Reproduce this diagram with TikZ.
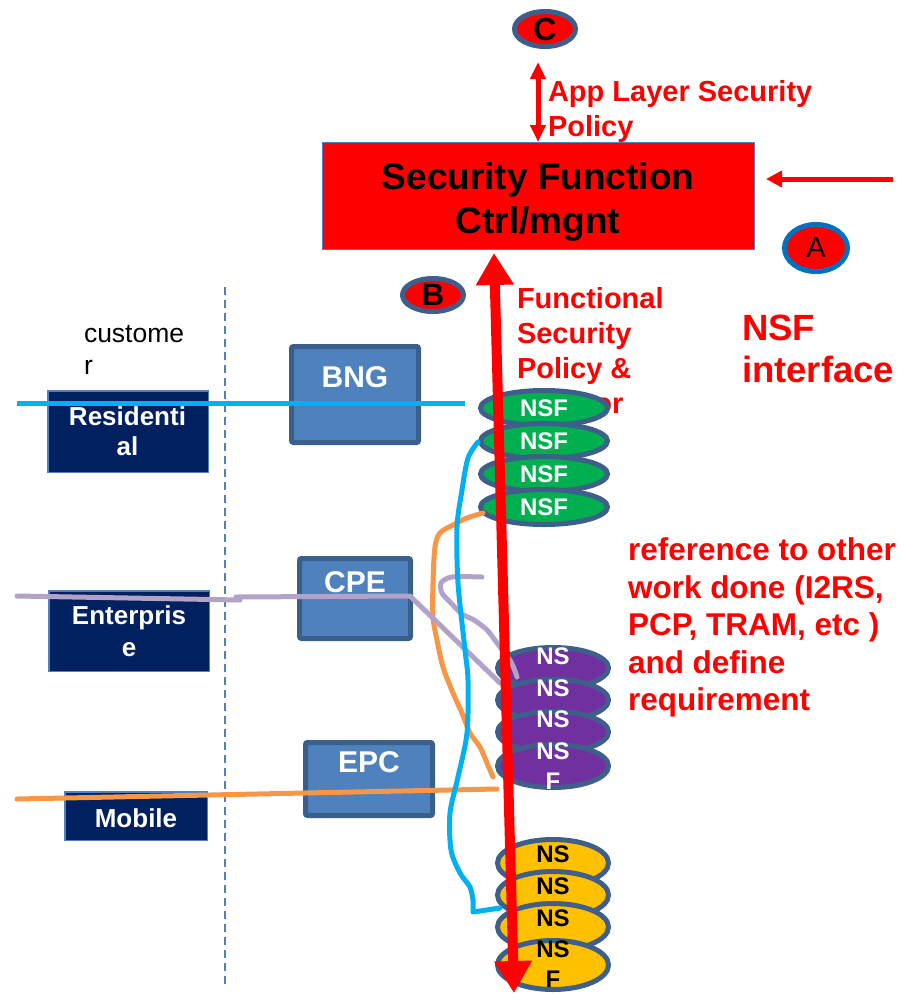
\documentclass[tikz,border=0pt]{standalone}
\usepackage{fontspec}
\setmainfont{Liberation Sans}
\usetikzlibrary{arrows.meta,shapes.geometric}

\definecolor{sfred}{HTML}{FF0000}
\definecolor{sfedge}{HTML}{4F81BD}
\definecolor{ringblue}{HTML}{3E5F8A}
\definecolor{aring}{HTML}{0070C0}
\definecolor{navy}{HTML}{002060}
\definecolor{navyedge}{HTML}{4F81BD}
\definecolor{boxblue}{HTML}{4F81BD}
\definecolor{boxedge}{HTML}{3A5F8B}
\definecolor{cyanline}{HTML}{00B0F0}
\definecolor{lavline}{HTML}{B3A2C7}
\definecolor{orangeline}{HTML}{F79646}
\definecolor{nsfgreen}{HTML}{00B050}
\definecolor{nsfpurple}{HTML}{7030A0}
\definecolor{nsfyellow}{HTML}{FFC000}

\newcommand{\setfs}[2]{\fontsize{#1pt}{#2pt}\selectfont}

\tikzset{
  lbl/.style={inner sep=0pt, outer sep=0pt},
  redtxt/.style={lbl, text=sfred, align=left, anchor=north west},
  navybox/.style={draw=navyedge, fill=navy, line width=1.5pt, inner sep=0pt},
  bluebox/.style={draw=boxedge, fill=boxblue, line width=5pt, rounded corners=2pt, inner sep=0pt},
  navytxt/.style={lbl, text=white, font=\bfseries\setfs{26}{31}, align=center},
  bluetxt/.style={lbl, text=white, font=\bfseries\setfs{30}{30}, anchor=base},
  ring/.style={ellipse, draw=ringblue, line width=5pt, inner sep=0pt},
  nsfgreenring/.style={ring, fill=nsfgreen, minimum width=127pt, minimum height=35pt,
    text=white, font=\bfseries\setfs{24}{24}},
  nsfpurplering/.style={ring, fill=nsfpurple, minimum width=111pt, minimum height=41pt},
  nsfyellowring/.style={ring, fill=nsfyellow, minimum width=111pt, minimum height=47pt},
  stacktxt/.style={lbl, font=\bfseries\setfs{24}{30}, align=center},
  flowline/.style={line width=5pt, line cap=round, line join=round},
}

\begin{document}
\begin{tikzpicture}[x=1pt,y=-1pt]
\useasboundingbox (0,0) rectangle (904,994);

% customer / provider separation
\coordinate (sepTop) at (225,287);
\coordinate (sepBot) at (225,985);
\draw[sfedge, line width=2pt, dash pattern=on 8pt off 5pt] (sepTop) -- (sepBot);

\node[lbl, anchor=north west, align=left, font=\setfs{26.5}{32}] (cust) at (84,325) {custome\\r};

% controller
\node[draw=sfedge, fill=sfred, line width=1pt, inner sep=0pt,
      minimum width=432pt, minimum height=107pt] (sf) at (538.5,196) {};
\node[lbl, anchor=north, align=center, font=\bfseries\setfs{37}{44}] (sftext) at (538,163)
  {Security Function\\Ctrl/mgnt};

% interface markers
\node[ring, fill=sfred, minimum width=61pt, minimum height=35pt,
      font=\bfseries\setfs{32}{32}] (C) at (545,29) {C};
\node[ring, draw=aring, line width=5pt, fill=sfred, minimum width=63pt, minimum height=47pt,
      font=\setfs{29}{29}] (A) at (816,248) {A};
\node[ring, fill=sfred, minimum width=61pt, minimum height=33pt,
      font=\bfseries\setfs{31}{31}] (B) at (433,295) {B};

% application layer interface
\coordinate (cTop) at (538,62);
\coordinate (cBot) at (538,142);
\draw[sfred, line width=5pt, {Triangle[width=15pt,length=17pt]}-{Triangle[width=15pt,length=17pt]}] (cTop) -- (cBot);
\node[redtxt, font=\bfseries\setfs{29}{35}] (applayer) at (548,80) {App Layer Security\\Policy};

% NSF interface
\coordinate (aFrom) at (893,179);
\coordinate (aTip) at (766,179);
\draw[sfred, line width=5pt, -{Triangle[width=16pt,length=16pt]}] (aFrom) -- (aTip);
\node[redtxt, font=\bfseries\setfs{36.5}{42}] (nsfif) at (742,315) {NSF\\interface};

\node[redtxt, font=\bfseries\setfs{31.5}{37.5}] (refwork) at (628,538)
  {reference to other\\work done (I2RS,\\PCP, TRAM, etc )\\and define\\requirement};

% partly covered by the green stack
\node[redtxt, font=\bfseries\setfs{29}{35}] (funcpol) at (517,287)
  {Functional\\Security\\Policy \&\\Monitor};

% customer sites
\node[navybox, minimum width=160.5pt, minimum height=81.5pt] (res) at (128,431.5) {};
\node[navytxt, anchor=north, font=\bfseries\setfs{26}{30}] (restext) at (127.5,407) {Residenti\\al};
\node[navybox, minimum width=160.5pt, minimum height=80.5pt] (ent) at (129,631) {};
\node[navytxt, anchor=north, font=\bfseries\setfs{26}{32}] (enttext) at (129,606) {Enterpris\\e};
\node[navybox, minimum width=142.5pt, minimum height=48.5pt] (mob) at (136,816) {};
\node[navytxt, anchor=base] (mobtext) at (136,827) {Mobile};

% access equipment
\node[bluebox, minimum width=127pt, minimum height=96pt] (bng) at (355,394.5) {};
\node[bluetxt] (bngtext) at (355,387) {BNG};
\node[bluebox, minimum width=111pt, minimum height=80pt] (cpe) at (355,598.5) {};
\node[bluetxt] (cpetext) at (355,592) {CPE};
\node[bluebox, minimum width=127pt, minimum height=73pt] (epc) at (369,779) {};
\node[bluetxt] (epctext) at (369,772) {EPC};

% green NSF stack
\node[nsfgreenring] (g1) at (544,408) {NSF};
\node[nsfgreenring] (g2) at (544,441) {NSF};
\node[nsfgreenring] (g3) at (544,474) {NSF};
\node[nsfgreenring] (g4) at (544,507) {NSF};

% purple NSF stack
\node[nsfpurplering] (p1) at (553,668) {};
\node[nsfpurplering] (p2) at (553,700) {};
\node[nsfpurplering] (p3) at (553,732) {};
\node[nsfpurplering, minimum height=43pt] (p4) at (553,766) {};
\node[stacktxt, text=white] (p1t) at (553,656) {NS};
\node[stacktxt, text=white] (p2t) at (553,688) {NS};
\node[stacktxt, text=white] (p3t) at (553,719.5) {NS};
\node[stacktxt, text=white, anchor=north] (p4t) at (553,743) {NS\\F};

% yellow NSF stack
\node[nsfyellowring] (y1) at (553,863) {};
\node[nsfyellowring] (y2) at (553,895) {};
\node[nsfyellowring] (y3) at (553,927) {};
\node[nsfyellowring, minimum height=49pt] (y4) at (553,965) {};
\node[stacktxt] (y1t) at (553,854) {NS};
\node[stacktxt] (y2t) at (553,886) {NS};
\node[stacktxt] (y3t) at (553,918) {NS};
\node[stacktxt, anchor=north] (y4t) at (553,941) {NS\\F};

% mobile traffic
\coordinate (orA) at (17,799);
\coordinate (orB) at (497,789);
\draw[orangeline, flowline] (orA) -- (orB);
\draw[orangeline, flowline] plot[smooth, tension=0.55] coordinates {
  (483,513) (467,518) (453,525) (440,533) (435,547) (433,583) (433,617)
  (437,640) (443,667) (453,693) (462,713) (470,733) (480,747) (487,763) (493,777)};

% enterprise traffic
\coordinate (lvA) at (17,596);
\coordinate (lvB) at (240,600);
\coordinate (lvC) at (236,597);
\coordinate (lvD) at (410,596);
\coordinate (lvE) at (500,683);
\draw[lavline, flowline] (lvA) -- (lvB);
\draw[lavline, flowline] (lvC) -- (lvD) -- (lvE);
\draw[lavline, flowline] plot[smooth, tension=0.5] coordinates {
  (482,577) (452,577) (441,583) (442,593) (450,602) (462,614) (474,620)
  (487,630) (497,643) (511,662) (517,677)};

% residential traffic
\coordinate (cyA) at (17,403);
\coordinate (cyB) at (465,403);
\draw[cyanline, line width=5pt] (cyA) -- (cyB);
\draw[cyanline, flowline] plot[smooth, tension=0.5] coordinates {
  (478,442) (468,458) (462,490) (457,527) (458,583) (465,650) (468,680)
  (467,733) (458,777) (450,813) (451,850) (460,873) (470,887) (473,900)}
  -- (473,912) -- (500,908);

% functional security policy interface
\coordinate (fpTop) at (494,253);
\coordinate (fpBot) at (514,993);
\draw[sfred, line width=10pt, {Triangle[width=36pt,length=32pt]}-{Triangle[width=36pt,length=32pt]}] (fpTop) -- (fpBot);

\end{tikzpicture}
\end{document}
